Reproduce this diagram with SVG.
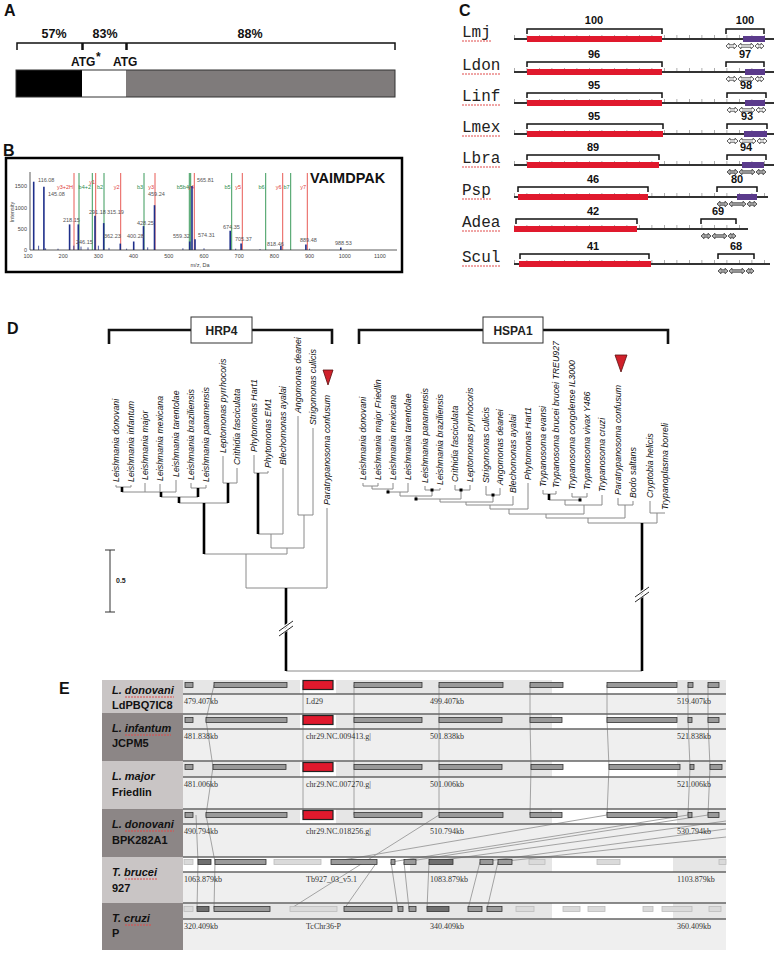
<svg xmlns="http://www.w3.org/2000/svg" width="782" height="956" viewBox="0 0 782 956">
<style>
.pl{font-family:"Liberation Sans",Arial,sans-serif;font-weight:bold;font-size:16px;fill:#111}
.pct{font-family:"Liberation Sans",Arial,sans-serif;font-weight:bold;font-size:12.5px;fill:#111;text-anchor:middle}
.atg{font-family:"Liberation Sans",Arial,sans-serif;font-weight:bold;font-size:12px;fill:#111}
.ax{font-family:"Liberation Sans",Arial,sans-serif;font-size:5.5px;fill:#444}
.pk{font-family:"Liberation Sans",Arial,sans-serif;font-size:5.5px;fill:#555}
.ir{font-family:"Liberation Sans",Arial,sans-serif;font-size:5.5px;fill:#e0403a;text-anchor:end}
.ig{font-family:"Liberation Sans",Arial,sans-serif;font-size:5.5px;fill:#2c8a4a;text-anchor:end}
.lr{stroke:#e85a55;stroke-width:1}
.lg{stroke:#3a9a5a;stroke-width:1}
.bar{stroke:#1f2f8a;stroke-width:1.6}
.cl{font-family:"Liberation Mono","Courier New",monospace;font-size:16px;fill:#222}
.cn{font-family:"Liberation Sans",Arial,sans-serif;font-weight:bold;font-size:11px;fill:#111;text-anchor:middle}
.rul{stroke:#333;stroke-width:2}
.tick{stroke:#999;stroke-width:3;stroke-dasharray:0.8 11.7}
.red{fill:#e0192d}
.pur{fill:#5b3b8c}
.brk{fill:none;stroke:#111;stroke-width:1.5}
.arw{fill:#fff;stroke:#333;stroke-width:0.8}
.arg{fill:#b0b0b0;stroke:#333;stroke-width:0.8}
.sq{stroke:#e04a4a;stroke-width:1;stroke-dasharray:2 1}
.sp{font-family:"Liberation Sans",Arial,sans-serif;font-style:italic;font-size:8.8px;fill:#111}
.tn{stroke:#8a8a8a;stroke-width:1;fill:none}
.tk{stroke:#000;stroke-width:2.6;fill:none}
.bx{font-family:"Liberation Sans",Arial,sans-serif;font-weight:bold;font-size:12px;fill:#222;text-anchor:middle}
.kb{font-family:"Liberation Serif","Times New Roman",serif;font-size:8px;fill:#333}
.rl{font-family:"Liberation Sans",Arial,sans-serif;font-weight:bold;font-size:11px;fill:#111}
.rli{font-family:"Liberation Sans",Arial,sans-serif;font-weight:bold;font-style:italic;font-size:11px;fill:#111}
.g{fill:#9a9a9a;stroke:#333;stroke-width:0.8}
.gd{fill:#6f6f6f;stroke:#333;stroke-width:0.8}
.gl{fill:#dadada;stroke:#bcbcbc;stroke-width:0.8}
.gr{fill:#e0192d;stroke:#222;stroke-width:1.2}
.syn{stroke:#9a9a9a;stroke-width:0.9;fill:none}
.trk{stroke:#666;stroke-width:1.5}
</style>
<rect width="782" height="956" fill="#fff"/>

<!-- Panel A -->
<g id="panelA">
<text class="pl" x="4" y="16">A</text>
<text class="pct" x="54" y="38">57%</text>
<text class="pct" x="105" y="38">83%</text>
<text class="pct" x="250" y="38">88%</text>
<path class="brk" d="M17,50V43H82V50M83,50V43H126V50M127,50V43H395V50"/>
<text class="atg" x="71" y="66">ATG</text>
<text class="atg" x="96" y="61" font-size="8">*</text>
<text class="atg" x="113" y="66">ATG</text>
<rect x="16" y="70" width="66" height="27" fill="#000"/>
<rect x="82" y="70" width="44" height="27" fill="#fff"/>
<rect x="126" y="70" width="269" height="27" fill="#7f7b7b"/>
<rect x="16" y="70" width="379" height="27" fill="none" stroke="#333" stroke-width="1"/>
</g>

<!-- Panel B -->
<g id="panelB">
<text class="pl" x="3" y="156">B</text>
<rect x="6" y="158" width="396" height="114" fill="#fff" stroke="#000" stroke-width="2.5"/>
<text x="310" y="183" font-family="Liberation Sans, Arial, sans-serif" font-weight="bold" font-size="14.5" fill="#111">VAIMDPAK</text>
<g id="ionlines">
<line class="lr" x1="74" y1="173" x2="74" y2="250"/>
<line class="lg" x1="79" y1="173" x2="79" y2="250"/>
<line class="lg" x1="92.3" y1="173" x2="92.3" y2="250"/>
<line class="lr" x1="95.7" y1="173" x2="95.7" y2="250"/>
<line class="lg" x1="104" y1="173" x2="104" y2="250"/>
<line class="lr" x1="120.7" y1="173" x2="120.7" y2="250"/>
<line class="lg" x1="144" y1="173" x2="144" y2="250"/>
<line class="lr" x1="155" y1="173" x2="155" y2="250"/>
<line class="lg" x1="189.3" y1="173" x2="189.3" y2="250"/>
<line class="lg" x1="190.7" y1="173" x2="190.7" y2="250"/>
<line class="lr" x1="194.3" y1="173" x2="194.3" y2="250"/>
<line class="lg" x1="231.7" y1="173" x2="231.7" y2="250"/>
<line class="lr" x1="242.3" y1="173" x2="242.3" y2="250"/>
<line class="lg" x1="265.7" y1="173" x2="265.7" y2="250"/>
<line class="lr" x1="282.7" y1="173" x2="282.7" y2="250"/>
<line class="lg" x1="290.7" y1="173" x2="290.7" y2="250"/>
<line class="lr" x1="307.3" y1="173" x2="307.3" y2="250"/>
</g>
<text class="ir" x="73" y="189">y3+2H</text>
<text class="ig" x="91" y="189">b4+2</text>
<text class="ir" x="95" y="184">y1</text>
<text class="ig" x="103" y="189">b2</text>
<text class="ir" x="119.5" y="189">y2</text>
<text class="ig" x="143" y="189">b3</text>
<text class="ir" x="154" y="189">y3</text>
<text class="ig" x="189" y="189">b5b4</text>
<text class="ir" x="194" y="189">y4</text>
<text class="ig" x="230.5" y="189">b5</text>
<text class="ir" x="241" y="189">y5</text>
<text class="ig" x="264.5" y="189">b6</text>
<text class="ir" x="281.5" y="189">y6</text>
<text class="ig" x="289.5" y="189">b7</text>
<text class="ir" x="306" y="189">y7</text>
<g id="peaks">
<line class="bar" x1="33.7" y1="250" x2="33.7" y2="181.7"/>
<line class="bar" x1="43.9" y1="250" x2="43.9" y2="186.8" stroke="#5a6cc0"/>
<line class="bar" x1="69.6" y1="250" x2="69.6" y2="224.4" stroke="#6a7cc8"/>
<line class="bar" x1="78.3" y1="250" x2="78.3" y2="224.4" stroke="#6a7cc8"/>
<line class="bar" x1="95" y1="250" x2="95" y2="215.8"/>
<line class="bar" x1="103.7" y1="250" x2="103.7" y2="223.1"/>
<line class="bar" x1="120.3" y1="250" x2="120.3" y2="243.6"/>
<line class="bar" x1="133.7" y1="250" x2="133.7" y2="241.5"/>
<line class="bar" x1="143.5" y1="250" x2="143.5" y2="226.1"/>
<line class="bar" x1="154.5" y1="250" x2="154.5" y2="205.2"/>
<line class="bar" x1="189.7" y1="250" x2="189.7" y2="241.5"/>
<line class="bar" x1="192" y1="250" x2="192" y2="186"/>
<line class="bar" x1="195" y1="250" x2="195" y2="239.3"/>
<line class="bar" x1="230.2" y1="250" x2="230.2" y2="230.8"/>
<line class="bar" x1="241.1" y1="250" x2="241.1" y2="243.6"/>
<line class="bar" x1="280.9" y1="250" x2="280.9" y2="245.7"/>
<line class="bar" x1="305.9" y1="250" x2="305.9" y2="244.4"/>
<line class="bar" x1="340.8" y1="250" x2="340.8" y2="247.4"/>
<path d="M38.6,250V245.7M45.6,250V248.3M58,250V248.7M73.8,250V245.7M81,250V246.6M88,250V247.4M98.4,250V245.7M109,250V247.9M126.6,250V248.7M147.7,250V247.4M182.9,250V248.3M204,250V248.3M235.7,250V248.7M260,250V249.1M309.6,250V248.7" stroke="#1f2f8a" stroke-width="0.8"/>
</g>
<text class="pk" x="38" y="182">116.08</text>
<text class="pk" x="48" y="196">145.08</text>
<text class="pk" x="63" y="222">218.15</text>
<text class="pk" x="76" y="244">246.15</text>
<text class="pk" x="89" y="214">291.18</text>
<text class="pk" x="107" y="214">315.19</text>
<text class="pk" x="104" y="238">362.23</text>
<text class="pk" x="127" y="238">400.28</text>
<text class="pk" x="137" y="225">428.25</text>
<text class="pk" x="148" y="196">459.24</text>
<text class="pk" x="173" y="238">559.32</text>
<text class="pk" x="197" y="182">565.81</text>
<text class="pk" x="198" y="237">574.31</text>
<text class="pk" x="223" y="229">674.35</text>
<text class="pk" x="235" y="241">705.37</text>
<text class="pk" x="267" y="246">818.46</text>
<text class="pk" x="300" y="242">889.48</text>
<text class="pk" x="335" y="245">988.53</text>
<path d="M30,172V250H397" stroke="#333" stroke-width="0.8" fill="none"/>
<g class="ax" text-anchor="end">
<text x="27" y="188">1500</text>
<text x="27" y="210">1000</text>
<text x="27" y="231">500</text>
<text x="27" y="252">0</text>
</g>
<g class="ax" text-anchor="middle">
<text x="28" y="258">100</text>
<text x="63.2" y="258">200</text>
<text x="98.4" y="258">300</text>
<text x="133.6" y="258">400</text>
<text x="168.8" y="258">500</text>
<text x="204" y="258">600</text>
<text x="239.2" y="258">700</text>
<text x="274.4" y="258">800</text>
<text x="309.6" y="258">900</text>
<text x="344.8" y="258">1000</text>
<text x="380" y="258">1100</text>
<text x="200" y="267">m/z, Da</text>
<text transform="translate(14,212) rotate(-90)">Intensity</text>
</g>
</g>

<!-- Panel C -->
<g id="panelC">
<text class="pl" x="459" y="16">C</text>
<g id="c-lmj">
<text class="cl" x="462" y="37">Lmj</text><line class="sq" x1="462" y1="41" x2="491" y2="41"/>
<line class="tick" x1="514" y1="36.5" x2="774" y2="36.5"/><line class="rul" x1="514" y1="39" x2="774" y2="39"/>
<rect class="red" x="527" y="36" width="135" height="6"/><rect class="pur" x="743" y="36" width="22" height="6"/>
<path class="brk" d="M527,34V29H662V34M726,34V29H764V34"/>
<text class="cn" x="594" y="24">100</text><text class="cn" x="745" y="24">100</text>
<polygon class="arw" points="726,46 729,43.2 729,44.8 734,44.8 734,43.2 737,46 734,48.8 734,47.2 729,47.2 729,48.8"/>
<polygon class="arw" points="738,46 741,43.2 741,44.8 751,44.8 751,43.2 754,46 751,48.8 751,47.2 741,47.2 741,48.8"/>
<polygon class="arw" points="755,46 758,43.2 758,44.8 761,44.8 761,43.2 764,46 761,48.8 761,47.2 758,47.2 758,48.8"/>
</g>
<g id="c-ldon">
<text class="cl" x="462" y="70">Ldon</text><line class="sq" x1="462" y1="74" x2="501" y2="74"/>
<line class="tick" x1="514" y1="69.5" x2="774" y2="69.5"/><line class="rul" x1="514" y1="72" x2="774" y2="72"/>
<rect class="red" x="527" y="69" width="135" height="6"/><rect class="pur" x="745" y="69" width="20" height="6"/>
<path class="brk" d="M527,67V62H662V67M726,67V62H764V67"/>
<text class="cn" x="594" y="57.5">96</text><text class="cn" x="745" y="57.5">97</text>
<polygon class="arw" points="726,79 729,76.2 729,77.8 734,77.8 734,76.2 737,79 734,81.8 734,80.2 729,80.2 729,81.8"/>
<polygon class="arw" points="738,79 741,76.2 741,77.8 751,77.8 751,76.2 754,79 751,81.8 751,80.2 741,80.2 741,81.8"/>
<polygon class="arw" points="755,79 758,76.2 758,77.8 761,77.8 761,76.2 764,79 761,81.8 761,80.2 758,80.2 758,81.8"/>
</g>
<g id="c-linf">
<text class="cl" x="462" y="101">Linf</text><line class="sq" x1="462" y1="105" x2="501" y2="105"/>
<line class="tick" x1="514" y1="100.5" x2="774" y2="100.5"/><line class="rul" x1="514" y1="103" x2="774" y2="103"/>
<rect class="red" x="527" y="100" width="135" height="6"/><rect class="pur" x="745" y="100" width="20" height="6"/>
<path class="brk" d="M527,98V93H662V98M727,98V93H766V98"/>
<text class="cn" x="594" y="88.5">95</text><text class="cn" x="746" y="88.5">98</text>
<polygon class="arw" points="727,110 730,107.2 730,108.8 735,108.8 735,107.2 738,110 735,112.8 735,111.2 730,111.2 730,112.8"/>
<polygon class="arw" points="739,110 742,107.2 742,108.8 752,108.8 752,107.2 755,110 752,112.8 752,111.2 742,111.2 742,112.8"/>
<polygon class="arw" points="756,110 759,107.2 759,108.8 763,108.8 763,107.2 766,110 763,112.8 763,111.2 759,111.2 759,112.8"/>
</g>
<g id="c-lmex">
<text class="cl" x="462" y="132">Lmex</text><line class="sq" x1="462" y1="136" x2="501" y2="136"/>
<line class="tick" x1="514" y1="131.5" x2="774" y2="131.5"/><line class="rul" x1="514" y1="134" x2="774" y2="134"/>
<rect class="red" x="527" y="131" width="136" height="6"/><rect class="pur" x="744" y="131" width="23" height="6"/>
<path class="brk" d="M527,129V124H663V129M727,129V124H767V129"/>
<text class="cn" x="594" y="119.5">95</text><text class="cn" x="747" y="119.5">93</text>
<polygon class="arw" points="727,141 730,138.2 730,139.8 735,139.8 735,138.2 738,141 735,143.8 735,142.2 730,142.2 730,143.8"/>
<polygon class="arw" points="739,141 742,138.2 742,139.8 753,139.8 753,138.2 756,141 753,143.8 753,142.2 742,142.2 742,143.8"/>
<polygon class="arw" points="757,141 760,138.2 760,139.8 764,139.8 764,138.2 767,141 764,143.8 764,142.2 760,142.2 760,143.8"/>
</g>
<g id="c-lbra">
<text class="cl" x="462" y="163">Lbra</text><line class="sq" x1="462" y1="167" x2="501" y2="167"/>
<line class="tick" x1="514" y1="162.5" x2="774" y2="162.5"/><line class="rul" x1="514" y1="165" x2="774" y2="165"/>
<rect class="red" x="527" y="162" width="132" height="6"/><rect class="pur" x="742" y="162" width="22" height="6"/>
<path class="brk" d="M527,160V155H659V160M727,160V155H766V160"/>
<text class="cn" x="593" y="150.5">89</text><text class="cn" x="746" y="150.5">94</text>
<polygon class="arg" points="727,172 730,169.2 730,170.8 735,170.8 735,169.2 738,172 735,174.8 735,173.2 730,173.2 730,174.8"/>
<polygon class="arg" points="739,172 742,169.2 742,170.8 752,170.8 752,169.2 755,172 752,174.8 752,173.2 742,173.2 742,174.8"/>
<polygon class="arg" points="756,172 759,169.2 759,170.8 763,170.8 763,169.2 766,172 763,174.8 763,173.2 759,173.2 759,174.8"/>
</g>
<g id="c-psp">
<text class="cl" x="462" y="195">Psp</text><line class="sq" x1="462" y1="199" x2="491" y2="199"/>
<line class="tick" x1="514" y1="194.5" x2="768" y2="194.5"/><line class="rul" x1="514" y1="197" x2="768" y2="197"/>
<rect class="red" x="518" y="194" width="130" height="6"/><rect class="pur" x="737" y="194" width="20" height="6"/>
<path class="brk" d="M518,192V187H648V192M717,192V187H757V192"/>
<text class="cn" x="593" y="182.5">46</text><text class="cn" x="737" y="182.5">80</text>
<polygon class="arg" points="717,204 720,201.2 720,202.8 725,202.8 725,201.2 728,204 725,206.8 725,205.2 720,205.2 720,206.8"/>
<polygon class="arg" points="729,204 732,201.2 732,202.8 743,202.8 743,201.2 746,204 743,206.8 743,205.2 732,205.2 732,206.8"/>
<polygon class="arg" points="747,204 750,201.2 750,202.8 754,202.8 754,201.2 757,204 754,206.8 754,205.2 750,205.2 750,206.8"/>
</g>
<g id="c-adea">
<text class="cl" x="462" y="227">Adea</text><line class="sq" x1="462" y1="231" x2="501" y2="231"/>
<line class="tick" x1="514" y1="226.5" x2="748" y2="226.5"/><line class="rul" x1="514" y1="229" x2="748" y2="229"/>
<rect class="red" x="514" y="226" width="123" height="6"/>
<path class="brk" d="M516,224V219H637V224M701,224V219H736V224"/>
<text class="cn" x="593" y="214.5">42</text><text class="cn" x="718" y="214.5">69</text>
<polygon class="arg" points="701,236 704,233.2 704,234.8 708,234.8 708,233.2 711,236 708,238.8 708,237.2 704,237.2 704,238.8"/>
<polygon class="arg" points="712,236 715,233.2 715,234.8 724,234.8 724,233.2 727,236 724,238.8 724,237.2 715,237.2 715,238.8"/>
<polygon class="arg" points="728,236 731,233.2 731,234.8 733,234.8 733,233.2 736,236 733,238.8 733,237.2 731,237.2 731,238.8"/>
</g>
<g id="c-scul">
<text class="cl" x="462" y="262">Scul</text><line class="sq" x1="462" y1="266" x2="501" y2="266"/>
<line class="tick" x1="514" y1="261.5" x2="770" y2="261.5"/><line class="rul" x1="514" y1="264" x2="770" y2="264"/>
<rect class="red" x="519" y="261" width="132" height="6"/>
<path class="brk" d="M520,259V254H649V259M718,259V254H754V259"/>
<text class="cn" x="593" y="249.5">41</text><text class="cn" x="736" y="249.5">68</text>
<polygon class="arg" points="718,271 721,268.2 721,269.8 725,269.8 725,268.2 728,271 725,273.8 725,272.2 721,272.2 721,273.8"/>
<polygon class="arg" points="729,271 732,268.2 732,269.8 742,269.8 742,268.2 745,271 742,273.8 742,272.2 732,272.2 732,273.8"/>
<polygon class="arg" points="746,271 749,268.2 749,269.8 751,269.8 751,268.2 754,271 751,273.8 751,272.2 749,272.2 749,273.8"/>
</g>
</g>

<!-- Panel D -->
<g id="panelD">
<text class="pl" x="7" y="334">D</text>
<g id="hrp4-header">
<path d="M109,344V330H191M252,330H332V344" fill="none" stroke="#111" stroke-width="2.6"/>
<rect x="191" y="317" width="61" height="26" fill="#fff" stroke="#333" stroke-width="1"/>
<text class="bx" x="221.5" y="334.5">HRP4</text>
</g>
<g id="hspa1-header">
<path d="M359,344V330H483M543,330H668V344" fill="none" stroke="#111" stroke-width="2.6"/>
<rect x="483" y="317" width="60" height="26" fill="#fff" stroke="#333" stroke-width="1"/>
<text class="bx" x="513" y="334.5">HSPA1</text>
</g>
<g id="hrp4-labels" class="sp">
<text transform="translate(119,482) rotate(-90)">Leishmania donovani</text>
<text transform="translate(134,482) rotate(-90)">Leishmania infantum</text>
<text transform="translate(148,480) rotate(-90)">Leishmania major</text>
<text transform="translate(163,481) rotate(-90)">Leishmania mexicana</text>
<text transform="translate(179,477) rotate(-90)">Leishmania tarentolae</text>
<text transform="translate(194,480) rotate(-90)">Leishmania braziliensis</text>
<text transform="translate(209,482) rotate(-90)">Leishmania panamensis</text>
<text transform="translate(226,453) rotate(-90)">Leptomonas pyrrhocoris</text>
<text transform="translate(240,465) rotate(-90)">Crithidia fasciculata</text>
<text transform="translate(257,452) rotate(-90)">Phytomonas Hart1</text>
<text transform="translate(271,468) rotate(-90)">Phytomonas EM1</text>
<text transform="translate(286,465) rotate(-90)">Blechomonas ayalai</text>
<text transform="translate(301,413) rotate(-90)">Angomonas deanei</text>
<text transform="translate(316,425) rotate(-90)">Strigomonas culicis</text>
<text transform="translate(330,505) rotate(-90)">Paratrypanosoma confusum</text>
</g>
<polygon points="323,370 333,370 328,385" fill="#d0202a" stroke="#5a1010" stroke-width="0.8"/>
<g id="hspa1-labels" class="sp">
<text transform="translate(366,480) rotate(-90)">Leishmania donovani</text>
<text transform="translate(381,480) rotate(-90)">Leishmania major Friedlin</text>
<text transform="translate(396,480) rotate(-90)">Leishmania mexicana</text>
<text transform="translate(411,480) rotate(-90)">Leishmania tarentolae</text>
<text transform="translate(428,483) rotate(-90)">Leishmania panamensis</text>
<text transform="translate(443,485) rotate(-90)">Leishmania braziliensis</text>
<text transform="translate(458,482) rotate(-90)">Crithidia fasciculata</text>
<text transform="translate(473,482) rotate(-90)">Leptomonas pyrrhocoris</text>
<text transform="translate(489,483) rotate(-90)">Strigomonas culicis</text>
<text transform="translate(503,485) rotate(-90)">Angomonas deanei</text>
<text transform="translate(516,493) rotate(-90)">Blechomonas ayalai</text>
<text transform="translate(531,480) rotate(-90)">Phytomonas Hart1</text>
<text transform="translate(546,487) rotate(-90)">Trypanosoma evansi</text>
<text transform="translate(559,488) rotate(-90)">Trypanosoma brucei brucei TREU927</text>
<text transform="translate(575,490) rotate(-90)">Trypanosoma congolense IL3000</text>
<text transform="translate(590,490) rotate(-90)">Trypanosoma vivax Y486</text>
<text transform="translate(605,492) rotate(-90)">Trypanosoma cruzi</text>
<text transform="translate(621,495) rotate(-90)">Paratrypanosoma confusum</text>
<text transform="translate(636,498) rotate(-90)">Bodo saltans</text>
<text transform="translate(653,498) rotate(-90)">Cryptobia helicis</text>
<text transform="translate(668,510) rotate(-90)">Trypanoplasma borreli</text>
</g>
<polygon points="615,355 627,355 621,372" fill="#d0202a" stroke="#5a1010" stroke-width="0.8"/>
<g id="connectors">
<path class="tn" d="M116,485V487M131,485V487M116,487H131M145,483V492M160,484V492M176,480V492M122,492H176M191,483V488M206,485V488M191,488H206M161,497H198M223,456V483M237,468V483M223,483H237M179,503H228M254,455V473M268,471V473M254,473H268M283,468V534M258,534H283M271,534V548M298,416V515M313,428V515M298,515H313M304,515V548M271,548H304M287,548V554M204,554H287M246,554V588M327,508V588M246,588H327M286,671H642"/>
<path class="tk" d="M122,487V492M161,492V497M198,488V497M179,497V503M228,483V503M204,503V554M258,473V534M286,588V671"/>
<path class="tn" d="M363,483V486M378,483V486M363,486H378M372,486V489M393,483V489M372,489H393M388,489V492M408,483V492M388,492H408M400,492V496M425,486V490M440,488V490M425,490H440M432,490V496M400,496H432M416,496V499M455,485V490M470,485V490M455,490H470M461,490V499M416,499H461M440,499V502M486,486V495M500,488V495M486,495H500M493,495V502M440,502H493M466,502V505M513,496V505M466,505H513M490,505V509M528,483V509M490,509H528M509,509V514M543,490V494M556,491V494M543,494H556M572,493V497M587,493V497M572,497H587M580,497V500M549,500H580M565,500V505M602,495V505M565,505H602M584,505V514M509,514H584M546,514V518M618,498V505M633,501V505M618,505H633M625,505V518M546,518H625M588,518V523M650,501V513M665,513V513M650,513H665M657,513V523M588,523H657"/>
<path class="tk" d="M549,494V500M642,523V671"/>
<g fill="#000">
<rect x="386.5" y="490.5" width="3" height="3"/><rect x="430.5" y="488.5" width="3" height="3"/><rect x="459.5" y="488.5" width="3" height="3"/><rect x="414.5" y="497.5" width="3" height="3"/><rect x="491.5" y="493.5" width="3" height="3"/><rect x="578.5" y="498.5" width="3" height="3"/>
</g>
<g id="breaks">
<path d="M279,635L293,625M279,631L293,621" stroke="#fff" stroke-width="3"/>
<path d="M279,636L293,626M279,631L293,621" stroke="#111" stroke-width="0.9"/>
<path d="M635,601L649,591M635,597L649,587" stroke="#fff" stroke-width="3"/>
<path d="M635,602L649,592M635,597L649,587" stroke="#111" stroke-width="0.9"/>
</g>
</g>
<g id="scalebar">
<path d="M110,550V612M105,550H115M105,612H115" stroke="#333" stroke-width="1" fill="none"/>
<text x="116" y="583" font-family="Liberation Sans, Arial, sans-serif" font-weight="bold" font-size="7" fill="#222">0.5</text>
</g>
</g>

<!-- Panel E -->
<g id="panelE">
<text class="pl" x="59" y="694">E</text>
<g id="e-bg">
<rect x="183" y="680" width="543" height="270" fill="#efefef"/>
<rect x="183" y="680" width="543" height="14" fill="#fff"/>
<rect x="183" y="714" width="543" height="15" fill="#fff"/>
<rect x="183" y="761" width="543" height="16" fill="#fff"/>
<rect x="183" y="809" width="543" height="15" fill="#fff"/>
<rect x="183" y="857" width="543" height="15" fill="#fff"/>
<rect x="183" y="903" width="543" height="16" fill="#fff"/>
<g fill="#e6e6e6">
<rect x="183" y="680" width="117" height="14"/><rect x="336" y="680" width="216" height="14"/><rect x="677" y="680" width="49" height="14"/>
<rect x="183" y="714" width="117" height="15"/><rect x="336" y="714" width="216" height="15"/><rect x="677" y="714" width="49" height="15"/>
<rect x="183" y="761" width="117" height="16"/><rect x="336" y="761" width="216" height="16"/><rect x="677" y="761" width="49" height="16"/>
<rect x="183" y="809" width="117" height="15"/><rect x="336" y="809" width="216" height="15"/><rect x="677" y="809" width="49" height="15"/>
<rect x="410" y="857" width="142" height="15"/><rect x="673" y="857" width="53" height="15"/>
<rect x="183" y="903" width="233" height="16"/><rect x="416" y="903" width="136" height="16"/><rect x="673" y="903" width="53" height="16"/>
</g>
</g>
<g id="e-rowlabels">
<rect x="102" y="680" width="81" height="33" fill="#c9c5c5"/>
<rect x="102" y="713" width="81" height="48" fill="#8c8686"/>
<rect x="102" y="761" width="81" height="48" fill="#c9c5c5"/>
<rect x="102" y="809" width="81" height="48" fill="#8c8686"/>
<rect x="102" y="857" width="81" height="46" fill="#c9c5c5"/>
<rect x="102" y="903" width="81" height="47" fill="#8c8686"/>
<text class="rli" x="112" y="694">L. donovani</text><text class="rl" x="112" y="709">LdPBQ7IC8</text>
<text class="rli" x="112" y="732">L. infantum</text><text class="rl" x="112" y="747">JCPM5</text>
<text class="rli" x="112" y="780">L. major</text><text class="rl" x="112" y="796">Friedlin</text>
<text class="rli" x="112" y="828">L. donovani</text><text class="rl" x="112" y="844">BPK282A1</text>
<text class="rli" x="112" y="876">T. brucei</text><text class="rl" x="112" y="892">927</text>
<text class="rli" x="112" y="922">T. cruzi</text><text class="rl" x="112" y="937">P</text>
<line class="sq" x1="125" y1="697" x2="174" y2="697"/>
<line class="sq" x1="125" y1="735" x2="171" y2="735"/>
<line class="sq" x1="125" y1="831" x2="174" y2="831"/>
<line class="sq" x1="125" y1="879" x2="158" y2="879"/>
<line class="sq" x1="125" y1="925" x2="151" y2="925"/>
</g>
<g id="e-synteny">
<path class="syn" d="M214,685L206,720L213,767L206,815M303,685V815M354,685V815M439,685V815M530,685L530,720L531,767L530,815M607,685L607,720L609,767L607,815M688,685L688,720L690,767L688,815M708,685L708,720L710,767L708,815"/>
<path class="syn" d="M196,815L198,862L197,909M206,815L215,862L214,909M607,815L331,862M688,815L391,862M708,815L404,862M726,821L429,862M726,829L480,862M726,837L498,862M439,815L290,909M377,862L344,909M391,862L398,909M404,862L409,909M429,862L427,909M480,862L468,909M498,862L487,909"/>
</g>
<g id="e-axes">
<path class="trk" d="M183,694H726M183,714H726M183,729H726M183,761H726M183,777H726M183,809H726M183,824H726M183,857H726M183,872H726M183,903H726M183,919H726"/>
</g>
<g id="e-genes">
<rect class="g" x="185" y="682.5" width="8" height="5"/><rect class="g" x="214" y="682.5" width="73" height="5"/><rect class="g" x="354" y="682.5" width="68" height="5"/><rect class="g" x="439" y="682.5" width="64" height="5"/><rect class="g" x="530" y="682.5" width="33" height="5"/><rect class="g" x="607" y="682.5" width="70" height="5"/><rect class="g" x="688" y="682.5" width="5" height="5"/><rect class="g" x="708" y="682.5" width="11" height="5"/><rect class="gr" x="303" y="680.5" width="30" height="9"/>
<rect class="g" x="185" y="717.5" width="8" height="5"/><rect class="g" x="206" y="717.5" width="81" height="5"/><rect class="g" x="354" y="717.5" width="68" height="5"/><rect class="g" x="439" y="717.5" width="63" height="5"/><rect class="g" x="530" y="717.5" width="32" height="5"/><rect class="g" x="607" y="717.5" width="70" height="5"/><rect class="g" x="688" y="717.5" width="4" height="5"/><rect class="g" x="708" y="717.5" width="11" height="5"/><rect class="gr" x="303" y="715.5" width="30" height="9"/>
<rect class="g" x="185" y="764.5" width="8" height="5"/><rect class="g" x="213" y="764.5" width="73" height="5"/><rect class="g" x="354" y="764.5" width="68" height="5"/><rect class="g" x="439" y="764.5" width="63" height="5"/><rect class="g" x="531" y="764.5" width="32" height="5"/><rect class="g" x="609" y="764.5" width="71" height="5"/><rect class="g" x="690" y="764.5" width="4" height="5"/><rect class="g" x="710" y="764.5" width="12" height="5"/><rect class="gr" x="303" y="762.5" width="30" height="9"/>
<rect class="g" x="185" y="812.5" width="8" height="5"/><rect class="g" x="206" y="812.5" width="81" height="5"/><rect class="g" x="354" y="812.5" width="68" height="5"/><rect class="g" x="439" y="812.5" width="64" height="5"/><rect class="g" x="530" y="812.5" width="32" height="5"/><rect class="g" x="607" y="812.5" width="70" height="5"/><rect class="g" x="688" y="812.5" width="4" height="5"/><rect class="g" x="708" y="812.5" width="11" height="5"/><rect class="gr" x="303" y="810.5" width="30" height="9"/>
<rect class="gl" x="184" y="859.5" width="9" height="5"/><rect class="gd" x="198" y="859.5" width="13" height="5"/><rect class="g" x="215" y="859.5" width="51" height="5"/><rect class="gl" x="274" y="859.5" width="47" height="5"/><rect class="g" x="331" y="859.5" width="46" height="5"/><rect class="g" x="391" y="859.5" width="4" height="5"/><rect class="g" x="404" y="859.5" width="12" height="5"/><rect class="gd" x="429" y="859.5" width="24" height="5"/><rect class="g" x="480" y="859.5" width="13" height="5"/><rect class="g" x="498" y="859.5" width="14" height="5"/><rect class="gl" x="529" y="859.5" width="16" height="5"/><rect class="gl" x="597" y="859.5" width="23" height="5"/><rect class="gl" x="719" y="859.5" width="7" height="5"/>
<rect class="gl" x="184" y="906.5" width="9" height="5"/><rect class="gd" x="197" y="906.5" width="12" height="5"/><rect class="g" x="214" y="906.5" width="56" height="5"/><rect class="gl" x="290" y="906.5" width="47" height="5"/><rect class="g" x="344" y="906.5" width="48" height="5"/><rect class="g" x="398" y="906.5" width="5" height="5"/><rect class="g" x="409" y="906.5" width="7" height="5"/><rect class="gd" x="427" y="906.5" width="22" height="5"/><rect class="g" x="468" y="906.5" width="14" height="5"/><rect class="g" x="487" y="906.5" width="15" height="5"/><rect class="gl" x="516" y="906.5" width="18" height="5"/><rect class="gl" x="563" y="906.5" width="17" height="5"/><rect class="gl" x="588" y="906.5" width="17" height="5"/><rect class="gl" x="643" y="906.5" width="10" height="5"/><rect class="gl" x="662" y="906.5" width="30" height="5"/><rect class="gl" x="709" y="906.5" width="12" height="5"/>
</g>
<g id="e-kb" class="kb">
<text x="184" y="704">479.407kb</text><text x="306" y="704">Ld29</text><text x="430" y="704">499.407kb</text><text x="677" y="704">519.407kb</text>
<text x="184" y="739">481.838kb</text><text x="306" y="739">chr29.NC.009413.g|</text><text x="430" y="739">501.838kb</text><text x="677" y="739">521.838kb</text>
<text x="184" y="787">481.006kb</text><text x="306" y="787">chr29.NC.007270.g|</text><text x="430" y="787">501.006kb</text><text x="677" y="787">521.006kb</text>
<text x="184" y="834">490.794kb</text><text x="306" y="834">chr29.NC.018256.g|</text><text x="430" y="834">510.794kb</text><text x="677" y="834">530.794kb</text>
<text x="184" y="882">1063.879kb</text><text x="306" y="882">Tb927_03_v5.1</text><text x="430" y="882">1083.879kb</text><text x="677" y="882">1103.879kb</text>
<text x="184" y="929">320.409kb</text><text x="306" y="929">TcChr36-P</text><text x="430" y="929">340.409kb</text><text x="677" y="929">360.409kb</text>
</g>
</g>
</svg>
